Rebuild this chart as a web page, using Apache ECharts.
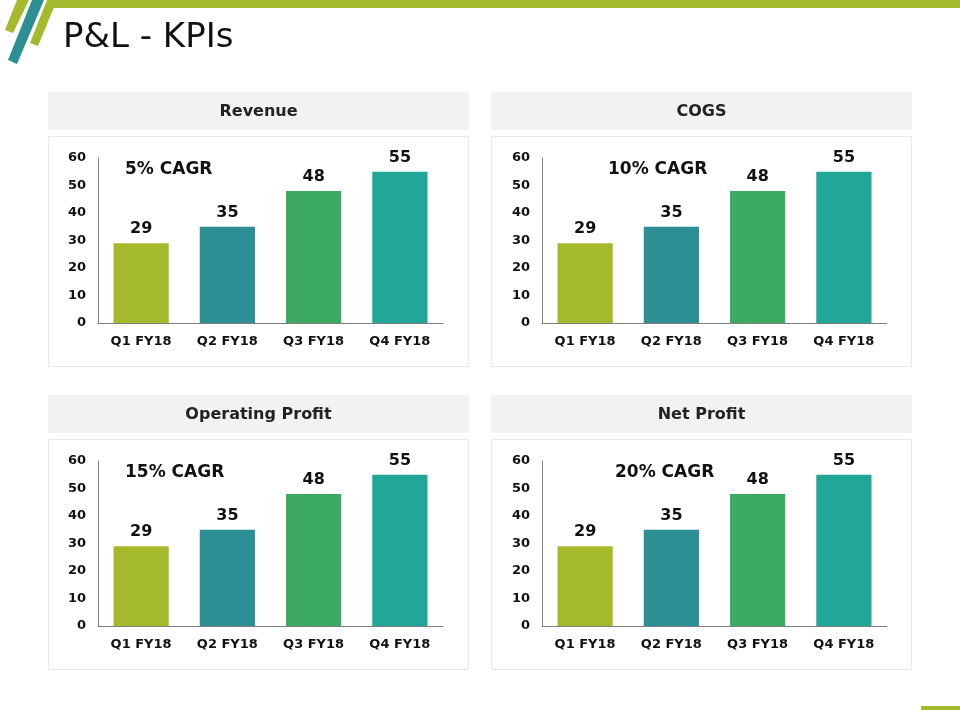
<!DOCTYPE html>
<html lang="en">
<head>
    <meta charset="UTF-8">
    <title>P&amp;L - KPIs</title>
    <script src="https://cdn.jsdelivr.net/npm/echarts@6/dist/echarts.min.js"></script>
    <style>
        html, body { margin: 0; padding: 0; background: #fff; }
        #chart { width: 960px; height: 720px; }
    </style>
</head>
<body>
    <div id="chart"></div>
</body>
<script type="text/javascript">
    // data
    var quarters = ['Q1 FY18', 'Q2 FY18', 'Q3 FY18', 'Q4 FY18'];
    var kpiNames = ['Revenue', 'COGS', 'Operating Profit', 'Net Profit'];
    var cagrLabels = ['5% CAGR', '10% CAGR', '15% CAGR', '20% CAGR'];
    var revenue = [29, 35, 48, 55];
    var cogs = [29, 35, 48, 55];
    var operatingProfit = [29, 35, 48, 55];
    var netProfit = [29, 35, 48, 55];
    var kpiValues = [revenue, cogs, operatingProfit, netProfit];
    var barColors = ['#a5b92d', '#2b8f94', '#3caa62', '#21a698'];

    var FONT = '"DejaVu Sans", Verdana, sans-serif';

    // panel layout: [panel left, header top]
    var panels = [[48, 92], [491, 92], [48, 395], [491, 395]];
    var cagrX = [125, 608, 125, 615];

    var chartDom = document.getElementById('chart');
    var myChart = echarts.init(chartDom);

    var grids = [], xAxes = [], yAxes = [], series = [], graphics = [];

    // decoration top-left
    graphics.push({ type: 'polygon', shape: { points: [[50, 0], [960, 0], [960, 8], [52, 8]] }, style: { fill: '#a5b92d' } });
    graphics.push({ type: 'polygon', shape: { points: [[17, 0], [29, 0], [13, 33], [5, 30]] }, style: { fill: '#a5b92d' } });
    graphics.push({ type: 'polygon', shape: { points: [[47, 0], [57, 0], [38, 46], [30, 43]] }, style: { fill: '#a5b92d' } });
    graphics.push({ type: 'polygon', shape: { points: [[32, 0], [44, 0], [17, 64], [8, 60]] }, style: { fill: '#2b8f94' } });
    graphics.push({ type: 'rect', shape: { x: 921, y: 706, width: 39, height: 4 }, style: { fill: '#a5b92d' } });
    graphics.push({
        type: 'text', left: 63, top: 21,
        style: { text: 'P&L - KPIs', font: '34px ' + FONT, fill: '#111' }
    });

    panels.forEach(function (p, i) {
        var px = p[0], py = p[1];
        graphics.push({ type: 'rect', z: -1, shape: { x: px, y: py, width: 421, height: 38 }, style: { fill: '#f2f2f2' } });
        graphics.push({ type: 'rect', z: -1, shape: { x: px + 0.5, y: py + 44.5, width: 420, height: 230 }, style: { fill: '#fff', stroke: '#e8e8e8', lineWidth: 1 } });
        graphics.push({
            type: 'text', x: px + 210.5, y: py + 20,
            style: { text: kpiNames[i], font: 'bold 16px ' + FONT, fill: '#222', align: 'center', verticalAlign: 'middle' }
        });
        graphics.push({
            type: 'text', x: cagrX[i], y: py + 78,
            style: { text: cagrLabels[i], font: 'bold 17px ' + FONT, fill: '#111', align: 'left', verticalAlign: 'middle' }
        });

        grids.push({ left: px + 50 + (i % 2), top: py + 66, width: 345, height: 165 });
        xAxes.push({
            type: 'category', gridIndex: i, data: quarters,
            axisTick: { show: false },
            axisLine: { lineStyle: { color: '#7f7f7f', width: 1 } },
            axisLabel: { color: '#111', fontFamily: FONT, fontWeight: 'bold', fontSize: 13, margin: 12 }
        });
        yAxes.push({
            type: 'value', gridIndex: i, min: 0, max: 60, interval: 10,
            axisLine: { show: true, lineStyle: { color: '#7f7f7f', width: 1 } },
            axisTick: { show: false },
            splitLine: { show: false },
            axisLabel: { color: '#111', fontFamily: FONT, fontWeight: 'bold', fontSize: 13, margin: 12 }
        });
        series.push({
            type: 'bar', xAxisIndex: i, yAxisIndex: i,
            name: kpiNames[i],
            barCategoryGap: '36%',
            data: kpiValues[i].map(function (v, j) {
                return { value: v, itemStyle: { color: barColors[j] } };
            }),
            label: {
                show: true, position: 'top', distance: 6,
                color: '#111', fontFamily: FONT, fontWeight: 'bold', fontSize: 16
            }
        });
    });

    var option = {
        animation: false,
        grid: grids,
        xAxis: xAxes,
        yAxis: yAxes,
        series: series,
        graphic: graphics
    };

    option && myChart.setOption(option);
</script>
</html>
